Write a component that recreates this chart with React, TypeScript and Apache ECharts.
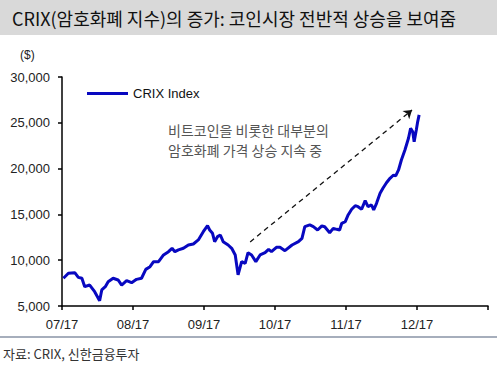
import React, { useEffect, useRef } from "react";
import * as echarts from "echarts";

const title = "CRIX(암호화폐 지수)의 증가: 코인시장 전반적 상승을 보여줌";
const sourceText = "자료: CRIX, 신한금융투자";
const unitText = "($)";
const seriesName = "CRIX Index";
const noteLines = ["비트코인을 비롯한 대부분의", "암호화폐 가격 상승 지속 중"];
const monthLabels = ["07/17", "08/17", "09/17", "10/17", "11/17", "12/17", ""];

// x in months since 07/17
const monthPos = [
  0.02, 0.09, 0.18, 0.23, 0.28, 0.32, 0.39, 0.46, 0.53, 0.56, 0.61, 0.65, 0.72, 0.79, 0.84, 0.91,
  0.98, 1.05, 1.12, 1.18, 1.24, 1.29, 1.36, 1.43, 1.5, 1.55, 1.59, 1.64, 1.71, 1.78, 1.85, 1.92,
  1.99, 2.05, 2.08, 2.12, 2.15, 2.19, 2.23, 2.27, 2.34, 2.39, 2.44, 2.48, 2.53, 2.58, 2.62, 2.67,
  2.73, 2.79, 2.86, 2.91, 2.95, 3.02, 3.07, 3.14, 3.24, 3.33, 3.38, 3.42, 3.49, 3.54, 3.6, 3.66,
  3.7, 3.77, 3.82, 3.87, 3.91, 3.94, 3.99, 4.03, 4.08, 4.13, 4.17, 4.22, 4.27, 4.31, 4.36, 4.39,
  4.43, 4.48, 4.52, 4.57, 4.62, 4.67, 4.7, 4.74, 4.78, 4.83, 4.88, 4.91, 4.94, 4.96, 4.99, 5.01,
  5.03,
];
const crixValues = [
  8030, 8570, 8640, 8130, 8030, 7110, 7290, 6560, 5580, 6750, 7110, 7650, 8030, 7840, 7290, 7760,
  7540, 7910, 8030, 9000, 9290, 9840, 9840, 10570, 10930, 11300, 10930, 11120, 11300, 11660, 11770, 12210,
  13110, 13770, 13300, 12940, 12020, 12570, 12750, 12020, 11660, 11300, 10570, 8400, 9840, 9660, 10820, 10570,
  9840, 10570, 10820, 11190, 10930, 11410, 11410, 11040, 11660, 12020, 12390, 13660, 13850, 13660, 13300, 13740,
  13660, 13000, 13480, 13370, 13300, 14030, 14210, 14940, 15560, 15950, 15840, 15560, 16500, 15840, 16030, 15480,
  16210, 17300, 17850, 18460, 18940, 19300, 19200, 19850, 20940, 22030, 23310, 24400, 24030, 22940, 24220, 25130,
  25860,
];
const arrowStart = [2.65, 12000];
const arrowEnd = [4.93, 26400];

export default function App() {
  const ref = useRef<HTMLDivElement>(null);
  useEffect(() => {
    if (!ref.current) return;
    const chart = echarts.init(ref.current, null, { renderer: "svg" });
    const data = monthPos.map((m, i) => [m, crixValues[i]]);
    const font = "'Liberation Sans', Arial, 'Noto Sans CJK KR', sans-serif";
    const krFont = "'Noto Sans CJK KR', sans-serif";
    chart.setOption({
      animation: false,
      backgroundColor: "#ffffff",
      grid: { left: 62, right: 12, top: 77, bottom: 65, containLabel: false },
      legend: {
        show: true,
        left: 82,
        top: 82,
        itemWidth: 41,
        itemHeight: 3,
        icon: "rect",
        textStyle: { fontFamily: font, fontSize: 13, color: "#111" },
        data: [seriesName],
      },
      xAxis: {
        type: "value",
        min: 0,
        max: 6,
        interval: 1,
        axisLine: { show: true, lineStyle: { color: "#000", width: 1.5 } },
        axisTick: { show: true, length: 4, lineStyle: { color: "#000", width: 1.5 } },
        splitLine: { show: false },
        axisLabel: {
          margin: 12,
          fontFamily: font,
          fontSize: 13,
          color: "#222",
          formatter: (v: number) => monthLabels[Math.round(v)] ?? "",
        },
      },
      yAxis: {
        type: "value",
        min: 5000,
        max: 30000,
        interval: 5000,
        axisLine: { show: true, lineStyle: { color: "#000", width: 1.5 } },
        axisTick: { show: true, length: 4, lineStyle: { color: "#000", width: 1.5 } },
        splitLine: { show: false },
        axisLabel: {
          margin: 12,
          fontFamily: font,
          fontSize: 13,
          color: "#222",
          formatter: (v: number) => v.toLocaleString("en-US"),
        },
      },
      series: [
        {
          name: seriesName,
          type: "line",
          data,
          showSymbol: false,
          symbol: "none",
          lineStyle: { color: "#0808c0", width: 3 },
          itemStyle: { color: "#0808c0" },
          markLine: {
            silent: true,
            symbol: ["none", "arrow"],
            symbolSize: 8,
            label: { show: false },
            lineStyle: { type: [5, 4], color: "#111", width: 1.3 },
            data: [[{ coord: arrowStart }, { coord: arrowEnd }]],
          },
        },
      ],
      graphic: [
        { type: "rect", shape: { x: 0, y: 0, width: 497, height: 35 }, style: { fill: "#d9d9d9" } },
        {
          type: "text",
          x: 12,
          y: 18,
          style: { text: title, font: `18px ${krFont}`, fill: "#111", verticalAlign: "middle" },
        },
        {
          type: "text",
          x: 20,
          y: 55,
          style: { text: unitText, font: `12px ${font}`, fill: "#222", verticalAlign: "middle" },
        },
        {
          type: "text",
          x: 168,
          y: 130,
          style: { text: noteLines[0], font: `14px ${krFont}`, fill: "#555", verticalAlign: "middle" },
        },
        {
          type: "text",
          x: 168,
          y: 150,
          style: { text: noteLines[1], font: `14px ${krFont}`, fill: "#555", verticalAlign: "middle" },
        },
        {
          type: "line",
          shape: { x1: 0, y1: 337, x2: 497, y2: 337 },
          style: { stroke: "#8893a6", lineWidth: 1.5 },
        },
        {
          type: "text",
          x: 3,
          y: 353,
          style: { text: sourceText, font: `13px ${krFont}`, fill: "#333", verticalAlign: "middle" },
        },
      ],
    });
    return () => chart.dispose();
  }, []);
  return (
    <div
      ref={ref}
      style={{ position: "fixed", left: 0, top: 0, width: 500, height: 371, background: "#fff" }}
    />
  );
}
